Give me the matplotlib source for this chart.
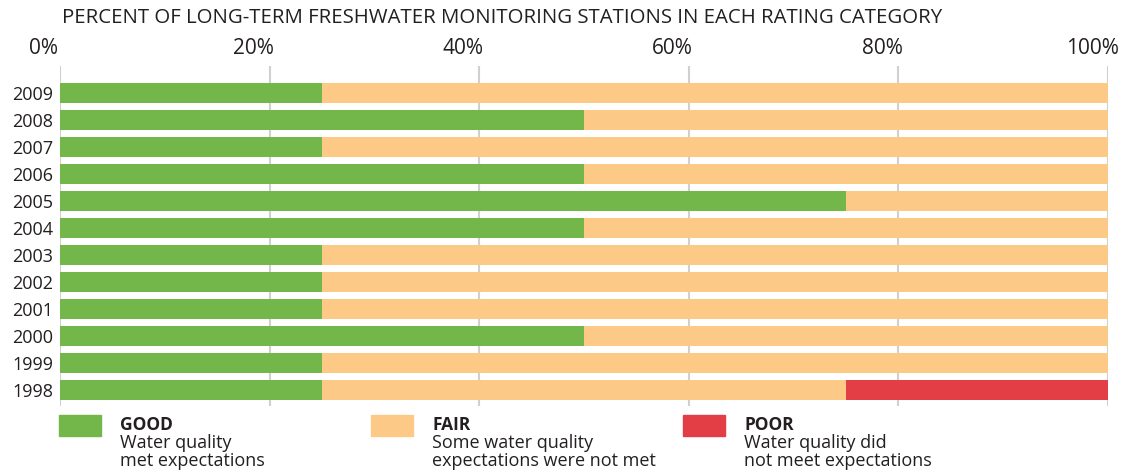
import matplotlib.pyplot as plt
import matplotlib.transforms as mtransforms
from matplotlib.patches import Rectangle
import numpy as np

plt.rcParams['font.family'] = ['Open Sans', 'DejaVu Sans']

# --- Data ---
years = ["2009", "2008", "2007", "2006", "2005", "2004",
         "2003", "2002", "2001", "2000", "1999", "1998"]
good = [25, 50, 25, 50, 75, 50, 25, 25, 25, 50, 25, 25]
fair = [75, 50, 75, 50, 25, 50, 75, 75, 75, 50, 75, 50]
poor = [0, 0, 0, 0, 0, 0, 0, 0, 0, 0, 0, 25]
ticks = [0, 20, 40, 60, 80, 100]
tick_labels = ["0%", "20%", "40%", "60%", "80%", "100%"]

title = "PERCENT OF LONG-TERM FRESHWATER MONITORING STATIONS IN EACH RATING CATEGORY"
legend_heads = ["GOOD", "FAIR", "POOR"]
legend_text = [["Water quality", "met expectations"],
               ["Some water quality", "expectations were not met"],
               ["Water quality did", "not meet expectations"]]

c_good, c_fair, c_poor = "#73B74B", "#FDC987", "#E33D45"
txt = "#231F20"

W, H = 1140, 470
fig = plt.figure(figsize=(W / 100, H / 100), dpi=100)
ax = fig.add_axes([60 / W, 1 - 406 / H, (1108 - 60) / W, (406 - 66) / H])

y = np.arange(len(years))[::-1]
g = np.array(good)
f = np.array(fair)
p = np.array(poor)
bh = 0.74
ax.barh(y, g, height=bh, color=c_good, zorder=2)
ax.barh(y, f, left=g, height=bh, color=c_fair, zorder=2)
ax.barh(y, p, left=g + f, height=bh, color=c_poor, zorder=2)

ax.set_xlim(0, 100)
ax.set_ylim(-0.593, 12.0)
for s in ax.spines.values():
    s.set_visible(False)
for t in ticks:
    ax.axvline(t, color="#D0D0D0", lw=1.5, zorder=1)

ax.set_xticks([])
ax.set_yticks(y)
ax.set_yticklabels(years, fontsize=13, color=txt)
ax.tick_params(axis="y", length=0, pad=5)

# top percent labels, shifted a bit left of their gridlines
off = mtransforms.ScaledTranslation(-16 / 100, 0, fig.dpi_scale_trans)
tr = mtransforms.blended_transform_factory(ax.transData, ax.transAxes) + off
for t, lab in zip(ticks, tick_labels):
    ax.text(t, 1.0 + 7 / 340, lab, transform=tr, ha="center", va="bottom",
            fontsize=15, color=txt)

fig.text(62 / W, 1 - 18 / H, title, ha="left", va="center", fontsize=14.7, color=txt)

# --- Legend ---
for x0, col, head, body in zip([59, 371, 683], [c_good, c_fair, c_poor],
                               legend_heads, legend_text):
    fig.patches.append(Rectangle((x0 / W, 1 - 436 / H), 42 / W, 21 / H,
                                 transform=fig.transFigure, color=col))
    fig.text((x0 + 61) / W, 1 - 430 / H, head, ha="left", va="baseline",
             fontsize=12.5, fontweight="bold", color=txt)
    for i, line in enumerate(body):
        fig.text((x0 + 61) / W, 1 - (448 + 18 * i) / H, line, ha="left",
                 va="baseline", fontsize=13, color=txt)

fig.savefig("out.png", dpi=100)
